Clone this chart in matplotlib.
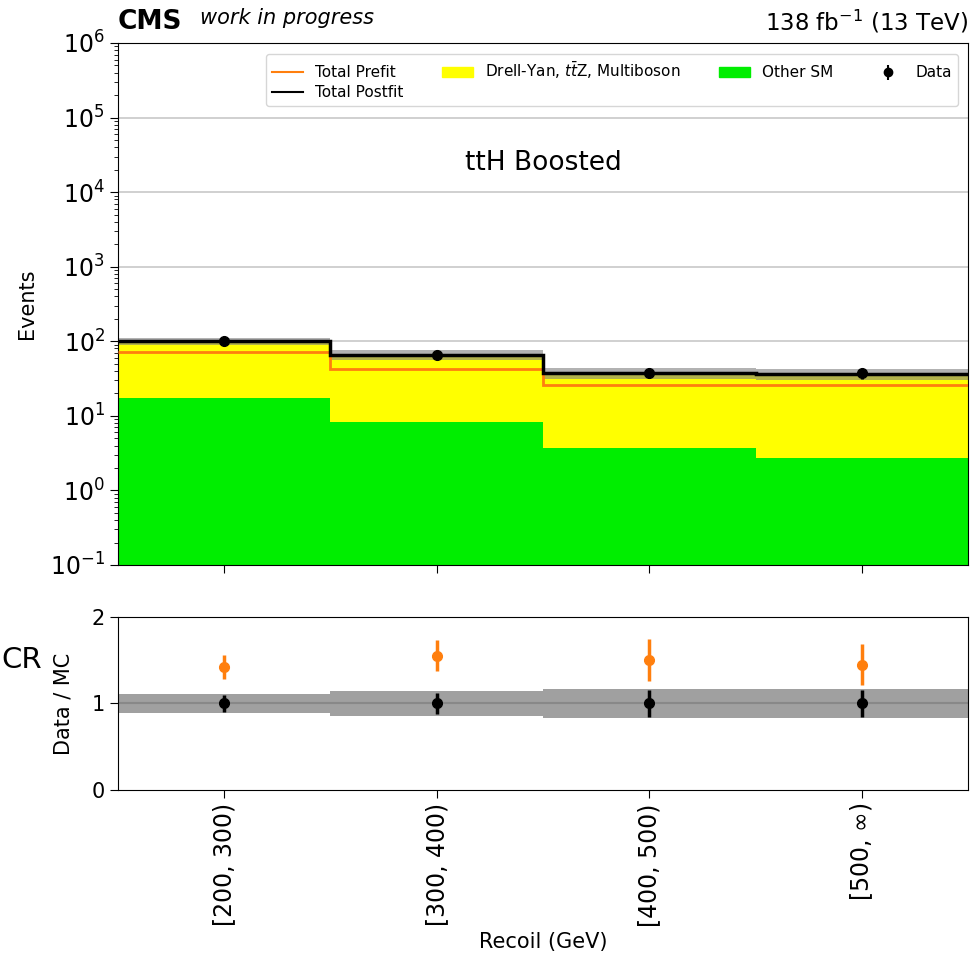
import numpy as np
import matplotlib
matplotlib.use("Agg")
import matplotlib.pyplot as plt
from matplotlib.patches import Patch
from matplotlib.lines import Line2D

# Recoil bins
bin_labels = ["[200, 300)", "[300, 400)", "[400, 500)", "[500, $\\infty$)"]

# yields per bin
other_sm = [17.5, 8.3, 3.65, 2.7]
postfit = [100, 66, 38, 36.6]
prefit = [71, 43, 25.6, 25.6]
data = [100, 65, 38, 37]
data_err = [10, 8, 6, 6]
unc = [0.115, 0.14, 0.17, 0.17]

# ratio panel
ratio_post = [1.0, 1.0, 1.0, 1.0]
ratio_post_err = [0.10, 0.12, 0.16, 0.16]
ratio_pre = [1.42, 1.55, 1.50, 1.45]
ratio_pre_err = [0.14, 0.18, 0.24, 0.24]

n = len(bin_labels)
edges = np.arange(n + 1) - 0.5
x = np.arange(n)
postfit = np.array(postfit)
unc = np.array(unc)

fig = plt.figure(figsize=(9.79, 9.61), dpi=100)
ax = fig.add_axes([0.1205, 0.4121, 0.8683, 0.5432])
rax = fig.add_axes([0.1205, 0.1780, 0.8683, 0.1800])

ax.set_yscale("log")
ax.set_axisbelow(True)
ax.grid(axis="y", which="major", color="#c8c8c8", lw=1.2)

ax.stairs(other_sm, edges, baseline=1e-3, fill=True, color="#00ee00", zorder=1)
ax.stairs(postfit, edges, baseline=other_sm, fill=True, color="#ffff00", zorder=1)
ax.stairs(prefit, edges, baseline=None, color="#ff7f0e", lw=2, zorder=3)
ax.stairs(postfit * (1 + unc), edges, baseline=postfit * (1 - unc), fill=True,
          color="grey", alpha=0.6, lw=0, zorder=2)
ax.stairs(postfit, edges, baseline=None, color="black", lw=2.5, zorder=4)
ax.errorbar(x, data, yerr=data_err, fmt="o", color="black", ms=7, lw=2, zorder=5)

ax.set_xlim(-0.5, n - 0.5)
ax.set_ylim(1e-1, 1e6)
ax.set_xticks(x)
ax.set_xticklabels([])
ax.tick_params(axis="both", which="major", labelsize=17, length=6)
ax.tick_params(axis="y", which="minor", length=3)
ax.set_ylabel("Events", fontsize=15)
ax.yaxis.set_label_coords(-0.095, 0.5)
ax.text(0.5, 0.770, "ttH Boosted", transform=ax.transAxes, ha="center", va="center", fontsize=19)

handles = [Line2D([], [], color="#ff7f0e", lw=1.5),
           Line2D([], [], color="black", lw=1.5),
           Patch(color="#ffff00"),
           Patch(color="#00ee00"),
           ax.errorbar([], [], yerr=[], fmt="o", color="black", ms=6)]
labels = ["Total Prefit", "Total Postfit", "Drell-Yan, $t\\bar{t}$Z, Multiboson", "Other SM", "Data"]
ax.legend(handles, labels, ncol=4, loc="upper right", fontsize=11, bbox_to_anchor=(0.997, 0.993),
          columnspacing=2.55, handlelength=2.0, labelspacing=0.3)

# ratio panel
lo = np.concatenate([1 - unc, [1 - unc[-1]]])
hi = np.concatenate([1 + unc, [1 + unc[-1]]])
rax.fill_between(edges, lo, hi, step="post", color="#a0a0a0", lw=0, zorder=1)
rax.axhline(1, color="#888888", lw=1.5, zorder=2)
rax.errorbar(x, ratio_pre, yerr=ratio_pre_err, fmt="o", color="#ff7f0e", ms=7, lw=2.5, zorder=4)
rax.errorbar(x, ratio_post, yerr=ratio_post_err, fmt="o", color="black", ms=7, lw=2.5, zorder=5)
rax.set_xlim(-0.5, n - 0.5)
rax.set_ylim(0, 2)
rax.set_yticks([0, 1, 2])
rax.set_xticks(x)
rax.set_xticklabels(bin_labels, rotation=90, fontsize=17)
rax.tick_params(axis="y", labelsize=15, length=6)
rax.tick_params(axis="x", length=6)
rax.set_ylabel("Data / MC", fontsize=15)
rax.yaxis.set_label_coords(-0.052, 0.5)
rax.set_xlabel("Recoil (GeV)", fontsize=15)

fig.text(0.1205, 0.977, "CMS", fontsize=19, fontweight="bold", va="center", ha="left")
fig.text(0.204, 0.981, "work in progress", fontsize=15, style="italic", va="center", ha="left")
fig.text(0.9888, 0.977, "138 fb$^{-1}$ (13 TeV)", fontsize=16.5, va="center", ha="right")
fig.text(0.001, 0.313, "CR", fontsize=21, va="center", ha="left")

fig.savefig("out.png", dpi=100)
